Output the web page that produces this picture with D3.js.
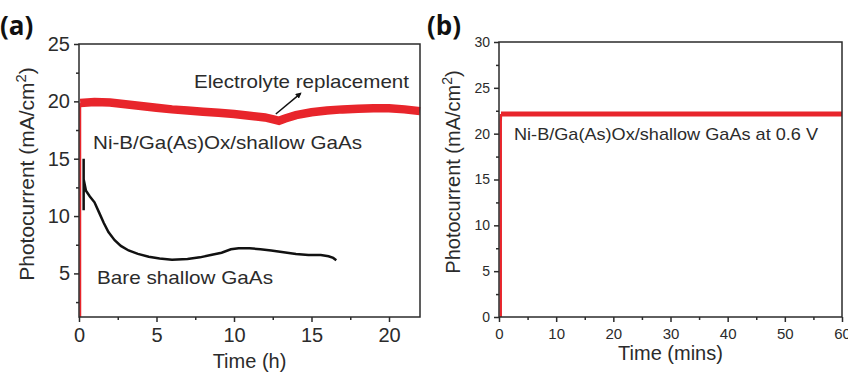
<!DOCTYPE html>
<html>
<head>
<meta charset="utf-8">
<script src="https://cdn.jsdelivr.net/npm/d3@7"></script>
<style>
  body { margin: 0; background: #fff; }
  svg { display: block; font-family: "Liberation Sans", Arial, sans-serif; }
  .lbl { font-family: "Open Sans", sans-serif; font-weight: bold; }
</style>
</head>
<body>
<div id="chart"></div>
<script>
// panel (a) : photocurrent vs time (h)
var timeRiseA = [0.08, 0.08]
var currRiseA = [1.2, 19.85]
var timeRedA = [0.08, 1, 2, 3, 4, 5, 6, 7, 8, 9, 10, 11, 12, 12.6, 12.9, 13.3, 14, 15, 16, 17, 18, 19, 20, 21, 22]
var currRedA = [19.85, 19.95, 19.9, 19.75, 19.6, 19.45, 19.3, 19.2, 19.1, 19.0, 18.9, 18.75, 18.6, 18.4, 18.3, 18.5, 18.8, 19.05, 19.2, 19.3, 19.35, 19.4, 19.4, 19.3, 19.15]

var timeBlackA = [0.3, 0.3, 0.3, 0.45, 0.7, 1, 1.3, 1.6, 1.9, 2.3, 2.7, 3.2, 3.8, 4.5, 5.2, 6, 7, 7.8, 8.5, 9.2, 9.8, 10.3, 11, 11.7, 12.4, 13.2, 14, 14.8, 15.6, 16.1, 16.4, 16.6]
var currBlackA = [10.5, 15, 13.2, 12.2, 11.7, 11.2, 10.3, 9.4, 8.6, 7.9, 7.4, 7.0, 6.7, 6.45, 6.3, 6.2, 6.25, 6.4, 6.6, 6.8, 7.1, 7.2, 7.2, 7.1, 7.0, 6.85, 6.7, 6.6, 6.6, 6.5, 6.35, 6.15]

var xTicksA = [0, 5, 10, 15, 20]
var yTicksA = [5, 10, 15, 20, 25]

// panel (b) : photocurrent vs time (mins) at 0.6 V
var timeRiseB = [0.3, 0.3, 0.35]
var currRiseB = [0, 21.3, 22.15]
var timeRedB = [0.35, 10, 20, 30, 40, 50, 60]
var currRedB = [22.15, 22.15, 22.15, 22.15, 22.15, 22.15, 22.15]

var xTicksB = [0, 10, 20, 30, 40, 50, 60]
var yTicksB = [0, 5, 10, 15, 20, 25, 30]

var red = '#e8252b'
var ink = '#2b2b2b'

var width = 848, height = 373

var svg = d3.select('#chart')
  .append('svg')
  .attr('width', width)
  .attr('height', height)

function zip(xs, ys) {
  return xs.map(function (x, i) { return [x, ys[i]] })
}

function drawPanel(o) {
  var g = svg.append('g')
  var x = d3.scaleLinear().domain(o.xDomain).range([o.left, o.right])
  var y = d3.scaleLinear().domain(o.yDomain).range([o.bottom, o.top])

  var line = d3.line()
    .x(function (d) { return x(d[0]) })
    .y(function (d) { return y(d[1]) })

  o.series.forEach(function (s) {
    g.append('path')
      .datum(zip(s.t, s.v))
      .attr('d', line)
      .attr('fill', 'none')
      .attr('stroke', s.color)
      .attr('stroke-width', s.w)
      .attr('stroke-linejoin', 'miter')
  })

  // frame
  g.append('rect')
    .attr('x', o.left).attr('y', o.top)
    .attr('width', o.right - o.left).attr('height', o.bottom - o.top)
    .attr('fill', 'none').attr('stroke', ink).attr('stroke-width', 1.5)

  var xAxis = g.append('g')
    .attr('transform', 'translate(0,' + o.bottom + ')')
    .call(d3.axisBottom(x).tickValues(o.xTicks).tickSize(5).tickPadding(6))
  var xMinor = g.append('g')
    .attr('transform', 'translate(0,' + o.bottom + ')')
    .call(d3.axisBottom(x).tickValues(o.xMinor).tickSize(3).tickFormat(''))
  var yAxis = g.append('g')
    .attr('transform', 'translate(' + o.left + ',0)')
    .call(d3.axisLeft(y).tickValues(o.yTicks).tickSize(5).tickPadding(4))
  var yMinor = g.append('g')
    .attr('transform', 'translate(' + o.left + ',0)')
    .call(d3.axisLeft(y).tickValues(o.yMinor).tickSize(3).tickFormat(''))

  ;[xAxis, xMinor, yAxis, yMinor].forEach(function (a) {
    a.select('.domain').remove()
    a.selectAll('line').attr('stroke', ink).attr('stroke-width', 1.5)
    a.selectAll('text')
      .attr('fill', ink)
      .style('font-family', '"Liberation Sans", Arial, sans-serif')
  })
  xAxis.selectAll('text').style('font-size', o.xFont + 'px')
  yAxis.selectAll('text').style('font-size', o.yFont + 'px')

  // axis titles
  g.append('text')
    .attr('x', (o.left + o.right) / 2)
    .attr('y', o.xTitleY)
    .attr('text-anchor', 'middle')
    .attr('fill', ink)
    .style('font-size', '20px')
    .text(o.xTitle)

  var yt = g.append('text')
    .attr('transform', 'translate(' + o.yTitleX + ',' + o.yTitleY + ') rotate(-90)')
    .attr('text-anchor', 'middle')
    .attr('fill', ink)
    .style('font-size', o.yTitleFont + 'px')
  yt.append('tspan').text('Photocurrent (mA/cm')
  yt.append('tspan').attr('dy', -8).style('font-size', (o.yTitleFont * 0.7) + 'px').text('2')
  yt.append('tspan').attr('dy', 8).text(')')

  // panel label
  g.append('text')
    .attr('class', 'lbl')
    .attr('x', o.labelX).attr('y', 35)
    .style('font-size', '26px')
    .attr('fill', '#111')
    .text(o.label)

  return { g: g, x: x, y: y }
}

function minor(a, b, step) {
  var out = []
  for (var v = a; v <= b + 1e-9; v += step) out.push(v)
  return out
}

var pa = drawPanel({
  left: 79, right: 420, top: 44, bottom: 317,
  xDomain: [0, 22], yDomain: [1.2, 25],
  xTicks: xTicksA, yTicks: yTicksA,
  xMinor: minor(2.5, 22, 5), yMinor: minor(2.5, 25, 5),
  xFont: 20, yFont: 20,
  xTitle: 'Time (h)', xTitleY: 368,
  yTitleX: 34, yTitleY: 174, yTitleFont: 21,
  label: '(a)', labelX: 0,
  series: [
    { t: timeRiseA, v: currRiseA, color: red, w: 2 },
    { t: timeRedA, v: currRedA, color: red, w: 8.5 },
    { t: timeBlackA, v: currBlackA, color: '#111', w: 2.5 }
  ]
})

var pb = drawPanel({
  left: 499, right: 842, top: 42, bottom: 317,
  xDomain: [0, 60], yDomain: [0, 30],
  xTicks: xTicksB, yTicks: yTicksB,
  xMinor: minor(5, 60, 10), yMinor: minor(2.5, 30, 5),
  xFont: 15, yFont: 14,
  xTitle: 'Time (mins)', xTitleY: 360,
  yTitleX: 460, yTitleY: 172, yTitleFont: 20,
  label: '(b)', labelX: 427,
  series: [
    { t: timeRiseB, v: currRiseB, color: red, w: 2.5 },
    { t: timeRedB, v: currRedB, color: red, w: 5 }
  ]
})

// annotations
function note(x, y, txt, size, len) {
  svg.append('text')
    .attr('x', x).attr('y', y)
    .attr('fill', ink)
    .attr('textLength', len)
    .attr('lengthAdjust', 'spacingAndGlyphs')
    .style('font-size', size + 'px')
    .text(txt)
}
note(194, 88, 'Electrolyte replacement', 19, 215)
note(93, 149, 'Ni-B/Ga(As)Ox/shallow GaAs', 19, 269)
note(97, 284, 'Bare shallow GaAs', 19, 176)
note(514, 140, 'Ni-B/Ga(As)Ox/shallow GaAs at 0.6 V', 17, 304)

// arrow pointing from the dip toward the label
svg.append('defs').append('marker')
  .attr('id', 'head')
  .attr('viewBox', '0 0 10 10')
  .attr('refX', 8).attr('refY', 5)
  .attr('markerWidth', 4).attr('markerHeight', 4)
  .attr('orient', 'auto')
  .append('path')
  .attr('d', 'M0,0L10,5L0,10z')
  .attr('fill', '#111')

svg.append('line')
  .attr('x1', pa.x(12.7)).attr('y1', pa.y(18.9))
  .attr('x2', pa.x(14.3)).attr('y2', pa.y(20.7))
  .attr('stroke', '#111')
  .attr('stroke-width', 1.5)
  .attr('marker-end', 'url(#head)')
</script>
</body>
</html>
